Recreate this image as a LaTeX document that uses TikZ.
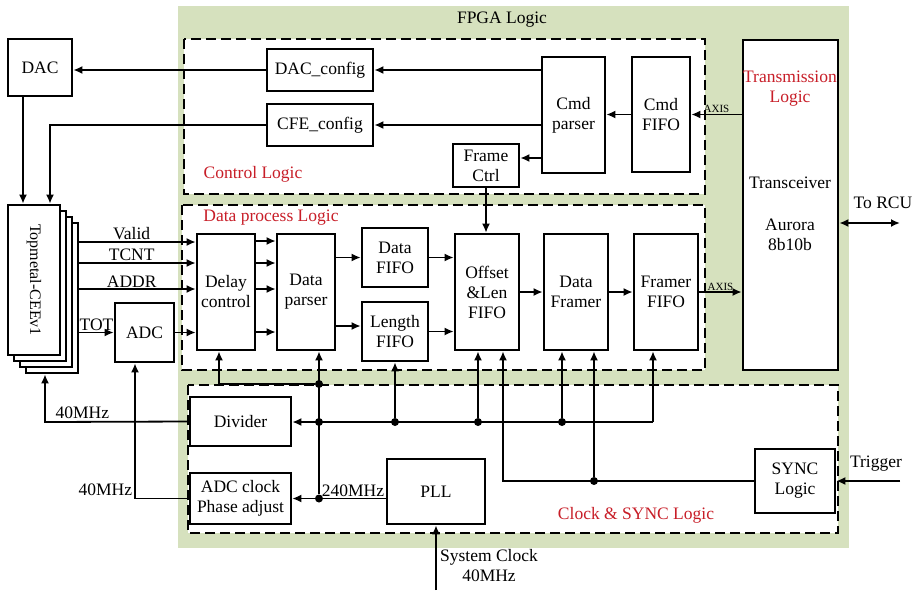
\documentclass[tikz,border=0pt]{standalone}
\usepackage{fontspec}
\setmainfont{Liberation Serif}
\usetikzlibrary{arrows.meta,positioning}

\begin{document}
\begin{tikzpicture}[
            x=1pt,y=-1pt,
            >={Latex[length=9pt,width=8pt]},
            every node/.style={font=\fontsize{17.5}{20}\selectfont,align=center},
            blk/.style={draw,line width=2.6pt,fill=white,inner sep=1pt},
            area/.style={draw,line width=2.6pt,fill=white,dash pattern=on 10pt off 5pt},
            wire/.style={line width=1.8pt},
            dot/.style={circle,fill,inner sep=0pt,minimum size=8pt},
            tag/.style={text=rdx},
            axislbl/.style={font=\fontsize{11}{13}\selectfont,inner sep=1pt}
        ]
            \definecolor{fpga}{RGB}{214,225,190}
            \definecolor{rdx}{RGB}{200,30,40}

            \useasboundingbox (0,0) rectangle (918,598);

            \fill[fpga] (178,6) rectangle (849,548);
            \node (fpgatxt) at (502,20) {FPGA Logic};
            \draw[area] (184,39) rectangle (705,194);
            \draw[area] (182,205) rectangle (705,370);
            \draw[area] (188,385) rectangle (838,533);
            \node (ctrltxt) [tag] at (253,174) {Control Logic};
            \node (datatxt) [tag] at (271,218) {Data process Logic};
            \node (clktxt)  [tag] at (636,515) {Clock \& SYNC Logic};

            % outside the FPGA
            \node (dac) [blk,minimum width=64pt,minimum height=57pt] at (40,67.5) {DAC};
            \foreach \i/\s in {4/18,3/12,2/6}
                \node (top\i) [blk,minimum width=52pt,minimum height=150pt] at (34+\s,280+\s) {};
            \node (top1) [blk,minimum width=52pt,minimum height=150pt] at (34,280) {};
            \node (toplbl) [rotate=-90,font=\fontsize{16}{18}\selectfont] at (top1) {Topmetal-CEEv1};
            \node (adc) [blk,minimum width=59pt,minimum height=59pt] at (144.5,332.5) {ADC};

            % control logic
            \node (dcfg)  [blk,minimum width=106pt,minimum height=42pt] at (320,70)      {DAC\_config};
            \node (ccfg)  [blk,minimum width=106pt,minimum height=42pt] at (320,125)     {CFE\_config};
            \node (cmdp)  [blk,minimum width=63pt,minimum height=116pt] at (573.5,115)   {Cmd\\parser};
            \node (cfifo) [blk,minimum width=58pt,minimum height=115pt] at (661,114.5)   {Cmd\\FIFO};
            \node (frame) [blk,minimum width=66pt,minimum height=43pt]  at (486,165.5)   {Frame\\Ctrl};

            % transmission
            \node (trans) [blk,minimum width=95pt,minimum height=330pt] at (790.5,205) {};
            \node (tlbl) [tag] at (790,89)  {Transmission\\Logic};
            \node (tcv)        at (790,183) {Transceiver};
            \node (aur)        at (790,235) {Aurora\\8b10b};

            % data process logic
            \node (delay)   [blk,minimum width=58pt,minimum height=116pt] at (226,292)   {Delay\\control};
            \node (parser)  [blk,minimum width=58pt,minimum height=116pt] at (306,292)   {Data\\parser};
            \node (dfifo)   [blk,minimum width=66pt,minimum height=59pt]  at (395,257.5) {Data\\FIFO};
            \node (lfifo)   [blk,minimum width=66pt,minimum height=59pt]  at (395,331.5) {Length\\FIFO};
            \node (offset)  [blk,minimum width=64pt,minimum height=116pt] at (487,292)   {Offset\\\&Len\\FIFO};
            \node (dframer) [blk,minimum width=64pt,minimum height=116pt] at (576,292)   {Data\\Framer};
            \node (ffifo)   [blk,minimum width=64pt,minimum height=116pt] at (666,292)   {Framer\\FIFO};

            % clock & sync logic
            \node (divider) [blk,minimum width=101pt,minimum height=49pt] at (240.5,421.5) {Divider};
            \node (adcclk)  [blk,minimum width=101pt,minimum height=51pt] at (240.5,498.5) {ADC clock\\Phase adjust};
            \node (pll)     [blk,minimum width=98pt,minimum height=65pt]  at (436,491.5)   {PLL};
            \node (sync)    [blk,minimum width=80pt,minimum height=64pt]  at (795,481)     {SYNC\\Logic};

            \node (d240) [dot] at (319,498.5) {};
            \node (dtr)  [dot] at (319,422) {};
            \node (dtop) [dot] at (319,384) {};
            \node (t1)   [dot] at (395,422) {};
            \node (t2)   [dot] at (478,422) {};
            \node (t3)   [dot] at (562,422) {};
            \node (t4)   [dot] at (594,481) {};
            \coordinate (k1) at (653,422);
            \coordinate (k2) at (503,481);
            \coordinate (k3) at (45,422);
            \coordinate (k4) at (135,498.5);
            \coordinate (rcu) at (900,223);
            \coordinate (trig) at (900,481);
            \coordinate (sys) at (436,590);

            % control path
            \draw[wire,->] (trans.west |- cfifo) -- node[above,axislbl] {AXIS} (cfifo.east);
            \draw[wire,->] (cfifo.west) -- (cfifo.west -| cmdp.east);
            \draw[wire,->] (cmdp.west |- dcfg) -- (dcfg.east);
            \draw[wire,->] (cmdp.west |- ccfg) -- (ccfg.east);
            \draw[wire,->] (cmdp.west |- 0,158) -- (frame.east |- 0,158);
            \draw[wire,->] (frame.south) -- (frame.south |- offset.north);
            \draw[wire,->] (dcfg.west) -- (dcfg.west -| dac.east);
            \draw[wire,->] (dac.south -| 23,0) -- (top1.north -| 23,0);
            \draw[wire,->] (ccfg.west) -| (top1.north -| 50,0);

            % data path
            \foreach \y/\t in {242/Valid,263/TCNT,289/ADDR}
                \draw[wire,->] (top4.east |- 0,\y) -- (delay.west |- 0,\y) node[pos=.45,above,inner sep=1pt] {\t};
            \draw[wire,->] (top4.east |- adc) -- node[above,inner sep=1pt] {TOT} (adc.west);
            \draw[wire,->] (adc.east) -- (adc.east -| delay.west);
            \foreach \y in {241,263,289,332}
                \draw[wire,->] (delay.east |- 0,\y) -- (parser.west |- 0,\y);
            \draw[wire,->] (parser.east |- dfifo) -- (dfifo.west);
            \draw[wire,->] (parser.east |- 0,326) -- (lfifo.west |- 0,326);
            \draw[wire,->] (dfifo.east) -- (dfifo.east -| offset.west);
            \draw[wire,->] (lfifo.east) -- (lfifo.east -| offset.west);
            \draw[wire,->] (offset) -- (dframer);
            \draw[wire,->] (dframer) -- (ffifo);
            \draw[wire,->] (ffifo) -- node[above,axislbl] {AXIS} (ffifo -| trans.west);
            \draw[wire,<->] (trans.east |- rcu) -- (rcu);
            \node (rcutxt) at (883,203) {To RCU};

            % clocks
            \draw[wire,->] (adcclk.east -| pll.west) -- node[pos=.35,above,inner sep=1pt] {240MHz} (adcclk.east);
            \draw[wire,->] (d240) -- (d240 |- parser.south);
            \draw[wire,->] (dtop) -| (delay.south -| 219,0);
            \draw[wire,->] (k1) -- (k1 -| divider.east);
            \draw[wire,->] (k1) -- (k1 |- ffifo.south);
            \foreach \n/\b in {t1/lfifo,t2/offset,t3/dframer}
                \draw[wire,->] (\n) -- (\n |- \b.south);
            \draw[wire,->] (sync.west) -- (k2) -- (k2 |- offset.south);
            \draw[wire,->] (t4) -- (t4 |- dframer.south);
            \draw[wire,->] (divider.west) -- node[pos=.74,above,inner sep=2pt] {40MHz} (k3) -- (k3 |- top4.south);
            \draw[wire,->] (adcclk.west) -- (k4) node[above left,inner sep=2pt] {40MHz} -- (k4 |- adc.south);
            \draw[wire,->] (trig) -- (trig -| sync.east);
            \node (trigtxt) at (876,464) {Trigger};
            \draw[wire,->] (sys) -- (pll.south);
            \node (systxt) at (489,566) {System Clock\\40MHz};
        \end{tikzpicture}
\end{document}
